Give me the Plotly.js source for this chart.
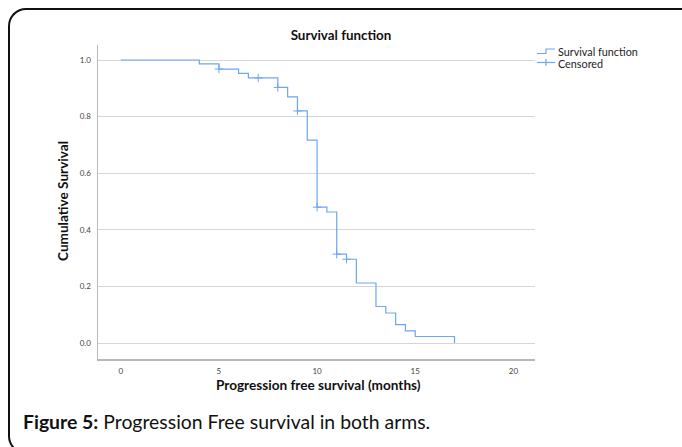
<!DOCTYPE html>
<html>
<head>
<meta charset="utf-8">
<script src="https://cdn.plot.ly/plotly-3.0.1.min.js"></script>
<style>
  html, body { margin: 0; padding: 0; background: #fff; }
  #wrap { position: relative; width: 682px; height: 447px; overflow: hidden; }
  #frame { position: absolute; left: 8px; top: 8px; width: 700px; height: 442px;
           border-top: 2px solid #111; border-left: 2px solid #111;
           border-bottom: 2px solid #111;
           border-top-left-radius: 18px; border-bottom-left-radius: 18px; }
  #chart { position: absolute; left: 0; top: 0; width: 682px; height: 447px; }
</style>
</head>
<body>
<div id="wrap"><div id="frame"></div><div id="chart"></div></div>
<script>
// Kaplan-Meier step curve (time in months, cumulative survival)
const stepTimes = [0, 4, 5, 6, 6.5, 8, 8.5, 9, 9.5, 10, 10.5, 11, 11.5, 12, 13, 13.5, 14, 14.5, 15, 17];
const stepSurvival = [1.0, 0.986, 0.968, 0.953, 0.937, 0.903, 0.870, 0.820, 0.717, 0.480, 0.463, 0.314, 0.296, 0.212, 0.129, 0.106, 0.065, 0.043, 0.023, 0.0];
// Censored observations
const censorTimes = [5, 7, 8, 9, 10, 11, 11.5];
const censorSurvival = [0.968, 0.937, 0.903, 0.820, 0.480, 0.314, 0.296];
// Axis ticks
const xTicks = [0, 5, 10, 15, 20];
const yTicks = [0.0, 0.2, 0.4, 0.6, 0.8, 1.0];
const yTickLabels = ['0.0', '0.2', '0.4', '0.6', '0.8', '1.0'];

const lineColor = '#6ea6ef';
const FONT = 'Lato, "Open Sans", sans-serif';

// plot area in pixels
const L = 98, R = 535, T = 45, B = 359;
const W = 682, H = 447;
const px = x => (x - L) / (R - L);
const py = y => (B - y) / (B - T);

const traces = [
  { x: stepTimes, y: stepSurvival, type: 'scatter', mode: 'lines',
    line: { shape: 'hv', color: lineColor, width: 1.2 },
    name: 'Survival function', hoverinfo: 'skip' },
  { x: censorTimes, y: censorSurvival, type: 'scatter', mode: 'markers',
    marker: { symbol: 'cross-thin', size: 6, line: { color: lineColor, width: 1 }, color: lineColor },
    name: 'Censored', hoverinfo: 'skip' }
];

const shapes = [
  // legend symbol: survival step
  { type: 'path', xref: 'paper', yref: 'paper',
    path: `M ${px(537)} ${py(53.5)} L ${px(546)} ${py(53.5)} L ${px(546)} ${py(49)} L ${px(555)} ${py(49)}`,
    line: { color: lineColor, width: 1.2 } },
  // legend symbol: censored
  { type: 'line', xref: 'paper', yref: 'paper', x0: px(537), x1: px(555), y0: py(62.5), y1: py(62.5),
    line: { color: lineColor, width: 1.2 } },
  { type: 'line', xref: 'paper', yref: 'paper', x0: px(546), x1: px(546), y0: py(59), y1: py(66),
    line: { color: lineColor, width: 1.2 } }
];

const annotations = [
  { text: 'Survival function', xref: 'paper', yref: 'paper', x: px(556), y: py(51), xanchor: 'left', yanchor: 'middle',
    showarrow: false, font: { family: FONT, size: 10.8, color: '#222' } },
  { text: 'Censored', xref: 'paper', yref: 'paper', x: px(556), y: py(63), xanchor: 'left', yanchor: 'middle',
    showarrow: false, font: { family: FONT, size: 10.8, color: '#222' } },
  { text: '<b>Progression free survival (months)</b>', xref: 'paper', yref: 'paper', x: px(318), y: py(385),
    xanchor: 'center', yanchor: 'middle', showarrow: false, font: { family: FONT, size: 13.6, color: '#111' } },
  { text: '<b>Cumulative Survival</b>', xref: 'paper', yref: 'paper', x: px(63), y: py(201), textangle: -90,
    xanchor: 'center', yanchor: 'middle', showarrow: false, font: { family: FONT, size: 13.6, color: '#111' } },
  { text: '<b>Figure 5:</b> Progression Free survival in both arms.', xref: 'paper', yref: 'paper', x: px(21), y: py(421),
    xanchor: 'left', yanchor: 'middle', showarrow: false, font: { family: FONT, size: 19.4, color: '#111' } }
];

const layout = {
  width: W, height: H,
  paper_bgcolor: 'rgba(0,0,0,0)', plot_bgcolor: 'rgba(0,0,0,0)',
  margin: { l: L, r: W - R, t: T, b: H - B, pad: 0 },
  showlegend: false,
  title: { text: '<b>Survival function</b>', x: 0.5, xref: 'container', y: 1 - 35 / H, yref: 'container',
           xanchor: 'center', yanchor: 'middle', font: { family: FONT, size: 13.4, color: '#111' } },
  xaxis: { range: [-1.16, 21.1], tickvals: xTicks, ticktext: xTicks.map(String), showgrid: false, zeroline: false,
           showline: true, linecolor: '#b8b8b8', linewidth: 2, ticks: '', ticklabelstandoff: 3,
           tickfont: { family: FONT, size: 8, color: '#444' } },
  yaxis: { range: [-0.0565, 1.053], tickvals: yTicks, ticktext: yTickLabels, showgrid: true, gridcolor: '#d6d6d6', gridwidth: 1,
           zeroline: false, showline: true, linecolor: '#b8b8b8', linewidth: 1.5, ticks: '', ticklabelstandoff: 4,
           tickfont: { family: FONT, size: 8, color: '#444' } },
  shapes: shapes,
  annotations: annotations
};

Plotly.newPlot('chart', traces, layout, { displayModeBar: false, staticPlot: true });
</script>
</body>
</html>
